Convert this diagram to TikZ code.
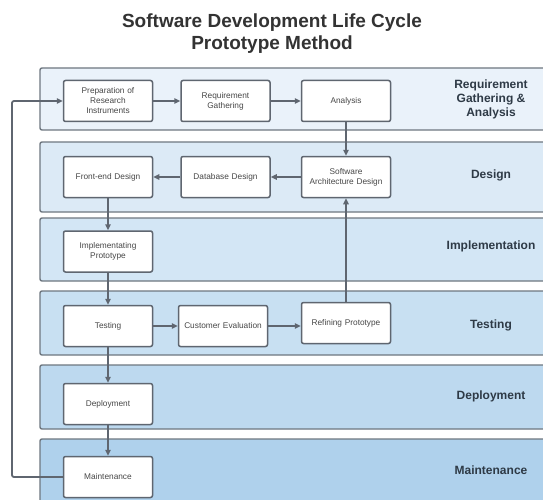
\documentclass[tikz,border=0pt]{standalone}
\usepackage{fontspec}
\setmainfont{Liberation Sans}
\usetikzlibrary{arrows.meta}
\definecolor{edge}{HTML}{5F6670}
\definecolor{lanebd}{HTML}{6E7780}
\definecolor{txt}{HTML}{2E3A46}
\definecolor{laneA}{HTML}{EAF2FA}
\definecolor{laneB}{HTML}{DCEAF6}
\definecolor{laneC}{HTML}{D3E6F5}
\definecolor{laneD}{HTML}{C8E0F2}
\definecolor{laneE}{HTML}{BDD9EF}
\definecolor{laneF}{HTML}{AFD1EC}
\tikzset{
  lane/.style={draw=lanebd, line width=1.4pt, rounded corners=2pt},
  stepbox/.style={draw=edge, line width=1.5pt, fill=white, rounded corners=2pt,
    minimum width=89pt, minimum height=41pt, align=center, text width=86pt,
    font=\fontsize{8.3}{10}\selectfont, text=black!72, inner sep=1pt},
  lanelabel/.style={font=\bfseries\fontsize{12}{14}\selectfont, text=txt, align=center},
  flow/.style={draw=edge, line width=1.8pt, -{Triangle[length=6pt,width=5.5pt]}},
}
\begin{document}
\begin{tikzpicture}[x=1pt,y=-1pt]
\useasboundingbox (0,0) rectangle (543,500);
\fill[white] (0,0) rectangle (543,500);
\clip (0,0) rectangle (543,500);
% title
\node[font=\bfseries\fontsize{19}{22}\selectfont, text=black!80, align=center] (title) at (272,34) {Software Development Life Cycle\\Prototype Method};
% lanes
\draw[lane, fill=laneA] (40,68) rectangle (560,130);
\draw[lane, fill=laneB] (40,142) rectangle (560,212);
\draw[lane, fill=laneC] (40,218) rectangle (560,281);
\draw[lane, fill=laneD] (40,291) rectangle (560,355);
\draw[lane, fill=laneE] (40,365) rectangle (560,429);
\draw[lane, fill=laneF] (40,439) rectangle (560,520);
% lane labels
\node[lanelabel] (l1) at (491,99) {Requirement\\Gathering \&\\Analysis};
\node[lanelabel] (l2) at (491,175) {Design};
\node[lanelabel] (l3) at (491,246) {Implementation};
\node[lanelabel] (l4) at (491,325) {Testing};
\node[lanelabel] (l5) at (491,396) {Deployment};
\node[lanelabel] (l6) at (491,470) {Maintenance};
% boxes
\node[stepbox] (prep) at (108,101) {Preparation of\\Research\\Instruments};
\node[stepbox] (reqg) at (225.5,101) {Requirement\\Gathering};
\node[stepbox] (anal) at (346,101) {Analysis};
\node[stepbox] (front) at (108,177) {Front-end Design};
\node[stepbox] (db) at (225.5,177) {Database Design};
\node[stepbox] (arch) at (346,177) {Software\\Architecture Design};
\node[stepbox] (impl) at (108,251.5) {Implementating\\Prototype};
\node[stepbox] (test) at (108,326) {Testing};
\node[stepbox] (cust) at (223,326) {Customer Evaluation};
\node[stepbox] (refine) at (346,323) {Refining Prototype};
\node[stepbox] (deploy) at (108,404) {Deployment};
\node[stepbox] (maint) at (108,477) {Maintenance};
% flows
\draw[flow] (prep) -- (reqg);
\draw[flow] (reqg) -- (anal);
\draw[flow] (anal) -- (arch);
\draw[flow] (arch) -- (db);
\draw[flow] (db) -- (front);
\draw[flow] (front) -- (impl);
\draw[flow] (impl) -- (test);
\draw[flow] (test) -- (cust);
\draw[flow] (cust.east) -- (cust.east -| refine.west);
\draw[flow] (refine) -- (arch);
\draw[flow] (test) -- (deploy);
\draw[flow] (deploy) -- (maint);
\draw[flow, rounded corners=2pt] (maint.west) -- (12,477) -- (12,101) -- (prep.west);
\end{tikzpicture}
\end{document}
